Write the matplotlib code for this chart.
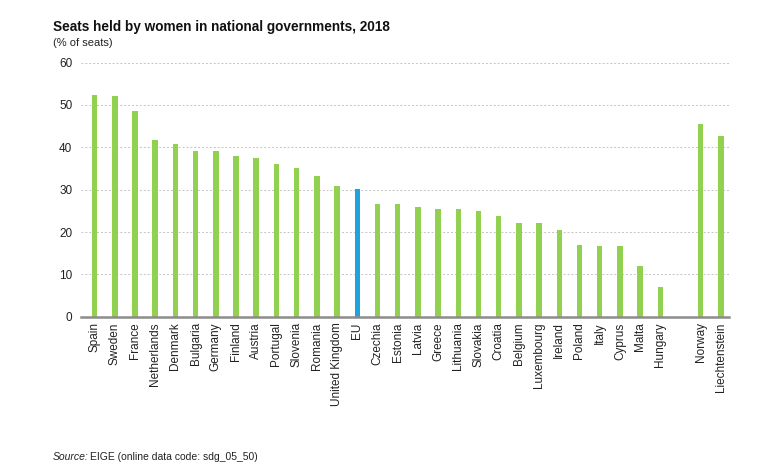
import matplotlib
matplotlib.use("Agg")
import matplotlib.pyplot as plt
import numpy as np

plt.rcParams["font.family"] = ["Liberation Sans", "DejaVu Sans"]

COUNTRIES = ["Spain", "Sweden", "France", "Netherlands", "Denmark", "Bulgaria", "Germany",
             "Finland", "Austria", "Portugal", "Slovenia", "Romania", "United Kingdom", "EU",
             "Czechia", "Estonia", "Latvia", "Greece", "Lithuania", "Slovakia", "Croatia",
             "Belgium", "Luxembourg", "Ireland", "Poland", "Italy", "Cyprus", "Malta", "Hungary"]
VALUES = [52.4, 52.2, 48.5, 41.7, 40.8, 39.2, 39.2, 38.0, 37.4, 36.0, 35.2, 33.3, 30.8, 30.2,
          26.6, 26.6, 25.8, 25.4, 25.4, 24.9, 23.7, 22.1, 22.1, 20.4, 16.9, 16.6, 16.6, 12.0, 7.1]
OTHER_COUNTRIES = ["Norway", "Liechtenstein"]
OTHER_VALUES = [45.6, 42.6]

GREEN = "#92D050"
BLUE = "#1FA3DC"

labels = COUNTRIES + [""] + OTHER_COUNTRIES
values = VALUES + [np.nan] + OTHER_VALUES
x = np.arange(len(labels))
colors = [BLUE if c == "EU" else GREEN for c in labels]

fig = plt.figure(figsize=(7.83, 4.70), dpi=100)
ax = fig.add_axes([0.103, 0.326, 0.828, 0.541])

ax.bar(x, values, width=0.27, color=colors, zorder=3)

ax.set_ylim(0, 60)
ax.set_xlim(-0.69, len(labels) - 0.6)
ax.set_yticks(range(0, 61, 10))
ax.yaxis.grid(True, color="#C4C4C4", linestyle=(0, (2, 2)), linewidth=0.7, zorder=0)
ax.set_xticks(x)
ax.set_xticklabels(labels, rotation=90, fontsize=8.5, color="#222222")
ax.tick_params(axis="both", length=0, colors="#222222", labelsize=8.5)
ax.tick_params(axis="x", pad=4)
ax.tick_params(axis="y", pad=6)
for s in ["top", "right", "left"]:
    ax.spines[s].set_visible(False)
ax.spines["bottom"].set_color("#8C8C8C")
ax.spines["bottom"].set_linewidth(1.8)
ax.spines["bottom"].set_zorder(4)

fig.text(53 / 783, 1 - 27 / 470, "Seats held by women in national governments, 2018",
         fontsize=9.8, fontweight="bold", va="center", ha="left", color="#111111")
fig.text(53 / 783, 1 - 43 / 470, "(% of seats)", fontsize=8, va="center", ha="left",
         color="#222222")
fig.text(53 / 783, 1 - 457 / 470, "Source:", fontsize=7.5, style="italic", va="center",
         ha="left", color="#222222")
fig.text(90 / 783, 1 - 457 / 470, "EIGE (online data code: sdg_05_50)", fontsize=7.5,
         va="center", ha="left", color="#222222")

fig.savefig("out.png", dpi=100)
